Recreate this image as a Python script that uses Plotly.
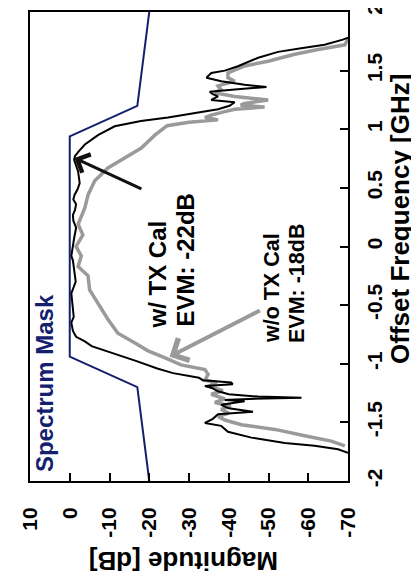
import plotly.graph_objects as go

# ---------------- data (offset frequency in GHz, magnitude in dB) ----------------
mask_freq = [-2.0, -1.2, -0.94, 0.94, 1.2, 2.0]
mask_mag = [-20.0, -17.0, 0.0, 0.0, -17.0, -20.0]

cal_freq = [-1.76, -1.73, -1.70, -1.676, -1.63, -1.58, -1.53, -1.505, -1.47, -1.43,
            -1.41, -1.38, -1.35, -1.33, -1.32, -1.31, -1.30, -1.29, -1.28, -1.26,
            -1.235, -1.21, -1.19, -1.175, -1.16, -1.14, -1.12, -1.08, -1.04, -0.98,
            -0.93, -0.89, -0.85, -0.81, -0.77, -0.72, -0.65, -0.60, -0.54, -0.47,
            -0.40, -0.30, -0.19, -0.12, -0.08, 0.03, 0.07, 0.16, 0.22, 0.27,
            0.31, 0.36, 0.40, 0.44, 0.49, 0.54, 0.60, 0.64, 0.70, 0.74,
            0.77, 0.81, 0.87, 0.95, 1.025, 1.07, 1.10, 1.14, 1.17, 1.20,
            1.23, 1.25, 1.28, 1.30, 1.32, 1.34, 1.36, 1.38, 1.41, 1.44,
            1.48, 1.50, 1.537, 1.61, 1.66, 1.69, 1.72, 1.764, 1.78]
cal_mag = [-70.0, -67.5, -61.6, -54.1, -45.7, -39.8, -38.1, -34.0, -36.0, -37.3,
           -46.1, -40.0, -38.1, -42.0, -44.0, -39.0, -45.0, -58.3, -47.4, -40.0,
           -37.3, -36.0, -34.0, -41.0, -40.6, -33.5, -32.5, -26.0, -22.0, -17.0,
           -12.5, -8.5, -5.5, -3.8, -1.6, -0.8, -0.4, -1.0, -0.8, -0.5,
           -0.4, -1.5, -1.1, -0.8, -0.4, -0.8, -1.1, -1.6, -0.9, -0.8,
           -1.3, -1.6, -0.9, -1.2, -2.0, -2.5, -2.3, -2.1, -1.5, -1.1,
           -1.3, -2.2, -3.8, -7.1, -11.3, -17.9, -24.7, -31.4, -37.3, -40.2,
           -41.5, -35.6, -37.3, -36.0, -35.2, -41.5, -49.5, -44.0, -38.1, -34.4,
           -35.6, -39.0, -42.3, -47.4, -52.4, -58.2, -64.1, -68.7, -70.0]

nocal_freq = [-1.70, -1.66, -1.62, -1.56, -1.52, -1.48, -1.45, -1.42, -1.39, -1.36,
              -1.33, -1.30, -1.26, -1.23, -1.19, -1.16, -1.14, -1.09, -1.05, -1.01,
              -0.95, -0.89, -0.82, -0.74, -0.62, -0.48, -0.37, -0.25, -0.17, -0.08,
              0.0, 0.10, 0.19, 0.33, 0.44, 0.56, 0.67, 0.755, 0.84, 0.95,
              1.03, 1.06, 1.08, 1.10, 1.12, 1.15, 1.17, 1.19, 1.205, 1.22,
              1.25, 1.28, 1.31, 1.34, 1.37, 1.41, 1.44, 1.48, 1.54, 1.58,
              1.64, 1.68, 1.72, 1.77]
nocal_mag = [-69.2, -65.8, -60.0, -51.6, -43.2, -39.0, -37.3, -40.0, -38.1, -40.5,
             -36.5, -39.0, -35.6, -38.5, -35.0, -37.0, -34.0, -34.8, -34.0, -28.0,
             -24.0, -19.7, -16.3, -12.1, -9.6, -7.1, -5.0, -4.6, -2.1, -2.9,
             -1.6, -3.3, -2.1, -3.8, -4.6, -6.3, -9.6, -13.8, -18.0, -21.4,
             -24.5, -30.0, -37.3, -34.0, -35.6, -39.0, -41.5, -49.0, -43.0, -44.0,
             -49.9, -41.5, -36.5, -38.0, -37.3, -41.5, -39.8, -39.8, -44.0, -49.9,
             -56.6, -62.5, -69.2, -70.0]

mag_ticks = [10, 0, -10, -20, -30, -40, -50, -60, -70]
mag_labels = ["10", "0", "-10", "-20", "-30", "-40", "-50", "-60", "-70"]
freq_ticks = [-2, -1.5, -1, -0.5, 0, 0.5, 1, 1.5, 2]
freq_labels = ["-2", "-1.5", "-1", "-0.5", "0", "0.5", "1", "1.5", "2"]

NAVY = "#14206e"
GRAY = "#9a9a9a"
FONT = "Liberation Sans"

fig = go.Figure()
fig.add_trace(go.Scatter(x=mask_mag, y=mask_freq, mode="lines",
                         line=dict(color=NAVY, width=2), showlegend=False))
fig.add_trace(go.Scatter(x=nocal_mag, y=nocal_freq, mode="lines",
                         line=dict(color=GRAY, width=3.5), showlegend=False))
fig.add_trace(go.Scatter(x=cal_mag, y=cal_freq, mode="lines",
                         line=dict(color="black", width=2), showlegend=False))

def txt(s, x, y, size, color="black", angle=-90, xanchor="center", yanchor="bottom",
        xref="x", yref="y"):
    fig.add_annotation(text=s, x=x, y=y, xref=xref, yref=yref, showarrow=False,
                       textangle=angle, xanchor=xanchor, yanchor=yanchor,
                       font=dict(family=FONT, size=size, color=color, weight="bold"))

# in-plot labels
txt("Spectrum Mask", 6.2, -1.94, 24, color=NAVY)
txt("w/ TX Cal", -22.1, -0.72, 24)
txt("EVM: -22dB", -29.0, -0.703, 24)
txt("w/o TX Cal", -50.9, -0.84, 21.5)
txt("EVM: -18dB", -57.3, -0.84, 21.5)

# axis titles
txt("Offset Frequency [GHz]", 1.163, 0.245, 26, xref="paper", yref="paper")
txt("Magnitude [dB]", 0.481, -0.171, 26, angle=180, yanchor="middle",
    xref="paper", yref="paper")

# arrows
fig.add_annotation(x=-1.2, y=0.755, ax=-18.4, ay=0.485, xref="x", yref="y",
                   axref="x", ayref="y", text="", showarrow=True, arrowhead=4,
                   arrowsize=1.3, arrowwidth=3, arrowcolor="#111111", standoff=0)
fig.add_annotation(x=-25.1, y=-0.94, ax=-48.2, ay=-0.54, xref="x", yref="y",
                   axref="x", ayref="y", text="", showarrow=True, arrowhead=4,
                   arrowsize=1.2, arrowwidth=4, arrowcolor=GRAY, standoff=0)

axis_common = dict(showgrid=False, zeroline=False, showline=True, linecolor="black",
                   linewidth=2, mirror=True, ticks="inside", ticklen=8, tickwidth=2,
                   tickcolor="black", tickangle=-90, automargin=False,
                   ticklabeloverflow="allow",
                   tickfont=dict(family=FONT, size=21, color="black", weight="bold"))

fig.update_xaxes(range=[10, -70], tickmode="array", tickvals=mag_ticks,
                 ticktext=mag_labels, ticklabelstandoff=16, **axis_common)
fig.update_yaxes(range=[-2, 2], side="right", tickmode="array", tickvals=freq_ticks,
                 ticktext=freq_labels, ticklabelstandoff=7, **axis_common)

fig.update_layout(width=419, height=584, margin=dict(l=22, r=79, t=4, b=111),
                  plot_bgcolor="white", paper_bgcolor="white", showlegend=False)

fig.write_html("out.html")
